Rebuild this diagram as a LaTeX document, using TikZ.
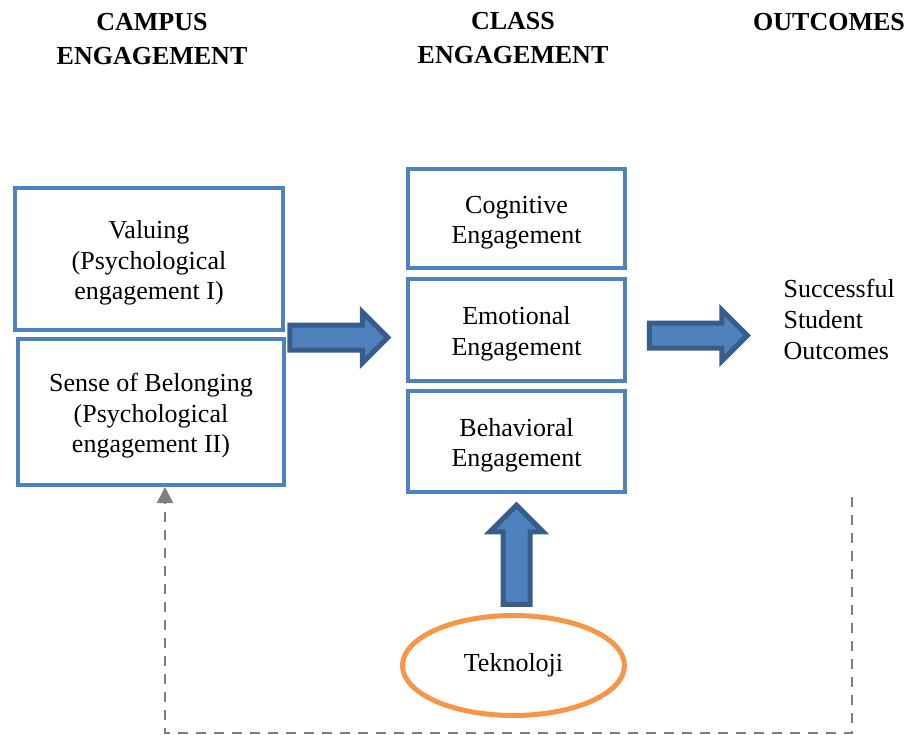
\documentclass[tikz,border=0pt]{standalone}
\usepackage{fontspec}
\setmainfont{Liberation Serif}
\usepackage{tikz}
\usetikzlibrary{shapes.geometric,shapes.arrows,arrows.meta}

\definecolor{boxblue}{RGB}{79,129,189}
\definecolor{darkblue}{RGB}{56,93,138}
\definecolor{tekorange}{RGB}{247,150,70}
\definecolor{dashgray}{RGB}{127,127,127}

\tikzset{
  headtext/.style={align=center, font=\bfseries\fontsize{26}{34}\selectfont},
  engbox/.style={rectangle, draw=boxblue, line width=4pt, fill=white},
  engtext/.style={align=center, yshift=-4pt, font=\fontsize{26}{30.5}\selectfont},
  blockarrow/.style={single arrow, draw=darkblue, fill=boxblue, line width=5pt,
    inner sep=10pt, single arrow head extend=13pt, minimum height=98pt},
  feedback/.style={draw=dashgray, line width=2pt, dash pattern=on 10pt off 8pt}
}

\begin{document}
\begin{tikzpicture}[x=1pt, y=-1pt]
  \useasboundingbox (0,0) rectangle (909,735);

  % Headers
  \node[headtext] (hcampus) at (152,39) {CAMPUS\\ENGAGEMENT};
  \node[headtext] (hclass) at (513,38) {CLASS\\ENGAGEMENT};
  \node[headtext] (hout) at (829,22) {OUTCOMES};

  % Campus engagement
  \node[engbox, minimum width=268, minimum height=142,
    label={[engtext]center:Valuing\\(Psychological\\engagement I)}] (valuing) at (149,259) {};
  \node[engbox, minimum width=266, minimum height=146,
    label={[engtext]center:Sense of Belonging\\(Psychological\\engagement II)}] (belong) at (151,412) {};

  % Class engagement
  \node[engbox, minimum width=217, minimum height=99,
    label={[engtext]center:Cognitive\\Engagement}] (cognitive) at (516.5,218.5) {};
  \node[engbox, minimum width=217, minimum height=102,
    label={[engtext]center:Emotional\\Engagement}] (emotional) at (516.5,330) {};
  \node[engbox, minimum width=217, minimum height=101,
    label={[engtext]center:Behavioral\\Engagement}] (behavioral) at (516.5,441.5) {};

  % Outcomes
  \node[align=left, anchor=west, font=\fontsize{26}{31}\selectfont] (outcome) at (780,319)
    {Successful\\Student\\Outcomes};

  % Teknoloji
  \node[ellipse, draw=tekorange, line width=5pt, minimum width=222, minimum height=100,
    font=\fontsize{26}{30}\selectfont] (tekno) at (513.5,665.5) {Teknoloji};

  % Block arrows
  \node[blockarrow] (arrowa) at (332.5,337.5) {};
  \node[blockarrow] (arrowb) at (692,335.5) {};
  \node[blockarrow, shape border rotate=90, inner sep=11pt,
    minimum height=99pt] (arrowc) at (516.5,561.5) {};

  % Feedback loop
  \coordinate (fbstart) at (852,497);
  \coordinate (fbend) at ([xshift=14pt]belong.south);
  \draw[feedback, -{Triangle[width=16pt,length=16pt]}]
    (fbstart) -- (852,733) -| (fbend);
\end{tikzpicture}
\end{document}
